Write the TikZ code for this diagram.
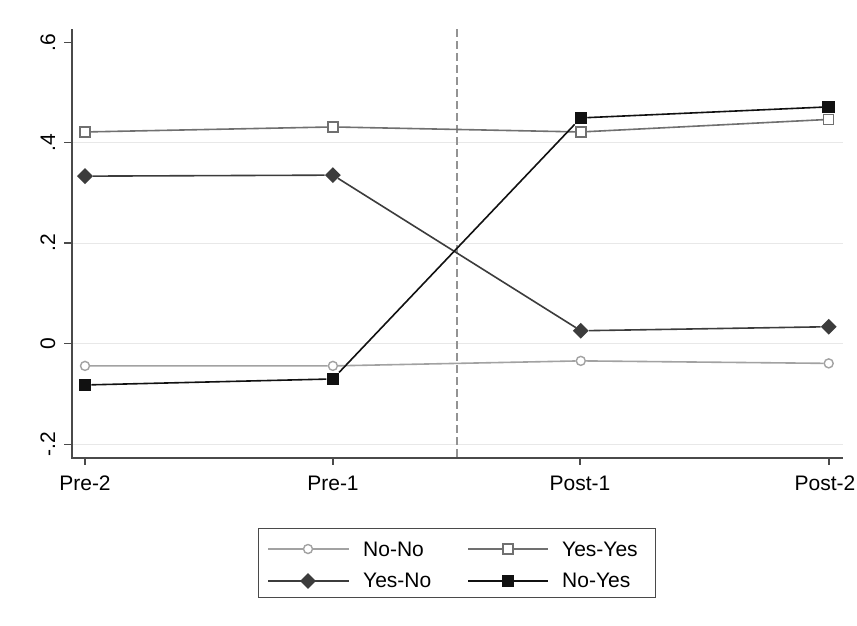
\documentclass[tikz,border=0pt]{standalone}
\usepackage{fontspec}
\setmainfont{Liberation Sans}
\usepackage{tikz}
\usetikzlibrary{shapes.geometric}

\definecolor{nonocol}{HTML}{A2A2A2}
\definecolor{yesyescol}{HTML}{707070}
\definecolor{yesnocol}{HTML}{3C3C3C}
\definecolor{noyescol}{HTML}{111111}
\definecolor{axiscol}{HTML}{4A4A4A}
\definecolor{gridcol}{HTML}{E8E8E8}

\begin{document}
\begin{tikzpicture}[x=1pt, y=-1pt, font=\fontsize{21}{25}\selectfont]
  \tikzstyle{gridline} = [gridcol, line width=1pt]
  \tikzstyle{axis} = [axiscol, line width=1.4pt]
  \tikzstyle{ticklabel} = [inner sep=0pt, anchor=base]
  \tikzstyle{nnline} = [nonocol, line width=1.6pt]
  \tikzstyle{yyline} = [yesyescol, line width=1.6pt]
  \tikzstyle{ynline} = [yesnocol, line width=1.6pt]
  \tikzstyle{nyline} = [noyescol, line width=1.6pt]
  \tikzstyle{nnmark} = [circle, draw=nonocol, fill=white, line width=1.4pt, inner sep=0pt, minimum size=9pt]
  \tikzstyle{yymark} = [rectangle, draw=yesyescol, fill=white, line width=1.4pt, inner sep=0pt, minimum size=10pt]
  \tikzstyle{ynmark} = [diamond, fill=yesnocol, inner sep=0pt, minimum size=16pt]
  \tikzstyle{nymark} = [rectangle, fill=noyescol, inner sep=0pt, minimum size=12.5pt]
  \useasboundingbox [fill=white] (0,0) rectangle (857,625);
  % grid and reference line
  \draw [gridline] (72,142.7) -- (843,142.7);
  \draw [gridline] (72,243) -- (843,243);
  \draw [gridline] (72,343.3) -- (843,343.3);
  \draw [gridline] (72,444.3) -- (843,444.3);
  \draw [gray!85, line width=1.2pt, dash pattern=on 8pt off 4pt] (457,29) -- (457,458);
  % axes
  \draw [axis] (72,29) -- (72,458) -- (843,458);
  \draw [axis] (64,42.7) -- (72,42.7);
  \draw [axis] (64,142.7) -- (72,142.7);
  \draw [axis] (64,243) -- (72,243);
  \draw [axis] (64,343.3) -- (72,343.3);
  \draw [axis] (64,444.3) -- (72,444.3);
  \draw [axis] (85,458) -- (85,465);
  \draw [axis] (333,458) -- (333,465);
  \draw [axis] (580,458) -- (580,465);
  \draw [axis] (829,458) -- (829,465);
  \node (y6) [ticklabel, rotate=90] at (55,42.7) {.6};
  \node (y4) [ticklabel, rotate=90] at (55,142.7) {.4};
  \node (y2) [ticklabel, rotate=90] at (55,243) {.2};
  \node (y0) [ticklabel, rotate=90] at (55,343.3) {0};
  \node (ym2) [ticklabel, rotate=90] at (55,444.3) {-.2};
  \node (pre2) [ticklabel] at (85,490) {Pre-2};
  \node (pre1) [ticklabel] at (333,490) {Pre-1};
  \node (post1) [ticklabel] at (580,490) {Post-1};
  \node (post2) [ticklabel] at (825,490) {Post-2};
  % series
  \begin{scope}[shift={(85,343.3)}, x=247.9pt, y=502pt]
    \node (nn1) [nnmark] at (0,-0.045) {};
    \node (nn2) [nnmark] at (1,-0.045) {};
    \node (nn3) [nnmark] at (2,-0.035) {};
    \node (nn4) [nnmark] at (3,-0.040) {};
    \draw [nnline] (nn1) -- (nn2) -- (nn3) -- (nn4);
    \node (yy1) [yymark] at (0,0.421) {};
    \node (yy2) [yymark] at (1,0.431) {};
    \node (yy3) [yymark] at (2,0.421) {};
    \node (yy4) [yymark] at (3,0.446) {};
    \draw [yyline] (yy1) -- (yy2) -- (yy3) -- (yy4);
    \node (yn1) [ynmark] at (0,0.333) {};
    \node (yn2) [ynmark] at (1,0.335) {};
    \node (yn3) [ynmark] at (2,0.025) {};
    \node (yn4) [ynmark] at (3,0.033) {};
    \draw [ynline] (yn1) -- (yn2) -- (yn3) -- (yn4);
    \node (ny1) [nymark] at (0,-0.083) {};
    \node (ny2) [nymark] at (1,-0.071) {};
    \node (ny3) [nymark] at (2,0.449) {};
    \node (ny4) [nymark] at (3,0.471) {};
    \draw [nyline] (ny1) -- (ny2) -- (ny3) -- (ny4);
  \end{scope}
  % legend
  \node (legend) [draw=axiscol, line width=1pt, minimum width=397pt, minimum height=69pt] at (456.5,562.5) {};
  \coordinate (nna) at (268,549);
  \coordinate (nnb) at (349,549);
  \draw [nnline] (nna) -- (nnb);
  \node (nnkey) [nnmark] at (308,549) {};
  \node (nntext) [inner sep=0pt, anchor=base west] at (363,556) {No-No};
  \coordinate (yya) at (468,549);
  \coordinate (yyb) at (548,549);
  \draw [yyline] (yya) -- (yyb);
  \node (yykey) [yymark] at (508,549) {};
  \node (yytext) [inner sep=0pt, anchor=base west] at (562,556) {Yes-Yes};
  \coordinate (yna) at (268,581);
  \coordinate (ynb) at (349,581);
  \draw [ynline] (yna) -- (ynb);
  \node (ynkey) [ynmark] at (308,581) {};
  \node (yntext) [inner sep=0pt, anchor=base west] at (363,587) {Yes-No};
  \coordinate (nya) at (468,581);
  \coordinate (nyb) at (548,581);
  \draw [nyline] (nya) -- (nyb);
  \node (nykey) [nymark] at (508,581) {};
  \node (nytext) [inner sep=0pt, anchor=base west] at (562,587) {No-Yes};
\end{tikzpicture}
\end{document}
